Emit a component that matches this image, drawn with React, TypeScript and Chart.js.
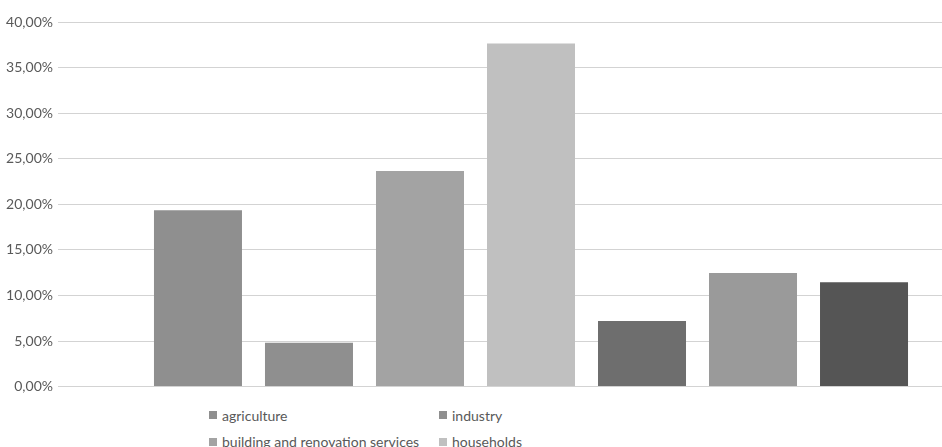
import React, { useEffect, useRef } from "react";
import { Chart, registerables } from "chart.js";

Chart.register(...registerables);

const categories: string[] = [""];
const seriesNames: string[] = [
  "agriculture",
  "industry",
  "building and renovation services",
  "households",
  "transport",
  "energy",
  "other",
];
const seriesValues: number[] = [19.35, 4.8, 23.65, 37.65, 7.2, 12.45, 11.45];
const seriesColors: string[] = [
  "#8f8f8f",
  "#8f8f8f",
  "#a3a3a3",
  "#c0c0c0",
  "#6e6e6e",
  "#9a9a9a",
  "#555555",
];
const yTicks: number[] = [0, 5, 10, 15, 20, 25, 30, 35, 40];

const FONT = "Lato, 'Open Sans', sans-serif";

export default function App() {
  const ref = useRef<HTMLCanvasElement | null>(null);

  useEffect(() => {
    if (!ref.current) return;
    const chart = new Chart(ref.current, {
      type: "bar",
      data: {
        labels: categories,
        datasets: seriesNames.map((name, i) => ({
          label: name,
          data: [seriesValues[i]],
          backgroundColor: seriesColors[i],
          borderWidth: 0,
          categoryPercentage: 0.8214,
          barPercentage: 0.7928,
        })),
      },
      options: {
        responsive: false,
        animation: false,
        devicePixelRatio: 1,
        layout: { padding: { top: 22, right: 0, bottom: 3, left: 0 } },
        plugins: {
          legend: { display: false },
          tooltip: { enabled: false },
        },
        scales: {
          x: {
            display: false,
            offset: true,
          },
          y: {
            min: yTicks[0],
            max: yTicks[yTicks.length - 1],
            afterFit: (scale: any) => {
              scale.width = 58;
            },
            afterBuildTicks: (scale: any) => {
              scale.ticks = yTicks.map((v) => ({ value: v }));
            },
            border: { display: false },
            grid: {
              color: "#d3d3d3",
              lineWidth: 1,
              drawTicks: false,
            },
            ticks: {
              padding: 5,
              color: "#595959",
              font: { family: FONT, size: 14 },
              callback: (v: any) => Number(v).toFixed(2).replace(".", ",") + "%",
            },
          },
        },
      },
    });
    return () => chart.destroy();
  }, []);

  return (
    <div
      style={{
        position: "fixed",
        left: 0,
        top: 0,
        width: 942,
        height: 447,
        overflow: "hidden",
        background: "#ffffff",
      }}
    >
      <canvas
        ref={ref}
        width={1004}
        height={400}
        style={{ position: "absolute", left: 0, top: 0, width: 1004, height: 400 }}
      />
      <div
        style={{
          position: "absolute",
          left: 209,
          top: 402,
          display: "grid",
          gridTemplateColumns: "230px 230px",
          gridAutoRows: "26.5px",
          fontFamily: FONT,
          fontSize: 14,
          color: "#595959",
        }}
      >
        {seriesNames.map((name, i) => (
          <div key={name} style={{ display: "flex", alignItems: "center", whiteSpace: "nowrap" }}>
            <span
              style={{
                display: "inline-block",
                width: 8,
                height: 8,
                background: seriesColors[i],
                marginRight: 5,
              }}
            />
            <span>{name}</span>
          </div>
        ))}
      </div>
    </div>
  );
}
